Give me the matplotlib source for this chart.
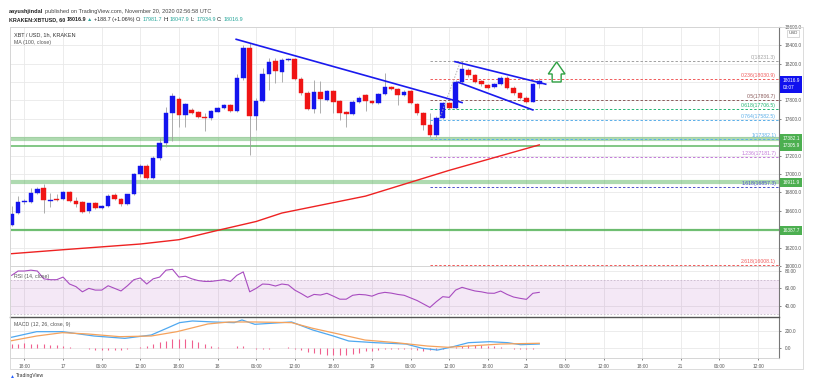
import numpy as np
import pandas as pd
import matplotlib
matplotlib.use('Agg')
import matplotlib.pyplot as plt
from matplotlib.patches import Polygon, Rectangle
from matplotlib.transforms import blended_transform_factory

plt.rcParams['font.family'] = ['Liberation Sans', 'DejaVu Sans']

# ---- data ----
bar_start = '2020-11-16 16:00'   # first hourly bar
opens = [16448, 16571, 16691, 16698, 16799, 16847, 16706, 16731, 16728, 16804,
         16706, 16691, 16593, 16684, 16626, 16647, 16771, 16728, 16669, 16782,
         17002, 17089, 16962, 17179, 17336, 17662, 17817, 17643, 17697, 17672,
         17625, 17607, 17679, 17719, 17748, 17690, 18042, 18367, 17632, 17795,
         18088, 18230, 18113, 18240, 18248, 18031, 17879, 17705, 17896, 17806,
         17904, 17795, 17679, 17654, 17788, 17857, 17795, 17770, 17868, 17944,
         17925, 17860, 17904, 17759, 17662, 17535, 17426, 17614, 17770, 17722,
         18005, 18132, 18078, 18012, 17969, 17944, 17977, 18048, 17940, 17879,
         17831, 17788, 17982]
highs = [16655, 16756, 16731, 16850, 16861, 16894, 16796, 16785, 16815, 16815,
         16753, 16705, 16687, 16698, 16666, 16785, 16796, 16742, 16785, 17013,
         17111, 17111, 17197, 17393, 17733, 17879, 17838, 17774, 17719, 17686,
         17665, 17697, 17730, 17763, 17763, 18088, 18403, 18425, 17828, 18154,
         18262, 18262, 18262, 18262, 18262, 18055, 17900, 18023, 18012, 17915,
         17915, 17806, 17690, 17806, 17849, 17871, 17806, 17882, 18099, 17958,
         17936, 17915, 17915, 17770, 17676, 17665, 17636, 17784, 17784, 18023,
         18230, 18154, 18088, 18023, 17980, 17991, 18066, 18066, 17958, 17890,
         17849, 17991, 18048]
lows = [16438, 16560, 16677, 16687, 16785, 16579, 16644, 16709, 16720, 16697,
        16644, 16579, 16579, 16622, 16622, 16644, 16720, 16655, 16666, 16774,
        16970, 16948, 16948, 17154, 17296, 17361, 17513, 17513, 17654, 17611,
        17469, 17589, 17676, 17708, 17676, 17676, 18023, 17209, 17480, 17784,
        17915, 17991, 18002, 18230, 18023, 17860, 17694, 17665, 17665, 17795,
        17665, 17589, 17513, 17643, 17773, 17687, 17763, 17763, 17860, 17915,
        17752, 17849, 17763, 17643, 17480, 17404, 17404, 17600, 17708, 17708,
        17991, 18056, 17991, 17958, 17925, 17936, 17969, 17925, 17860, 17817,
        17770, 17784, 17935]
closes = [16565, 16691, 16706, 16799, 16839, 16717, 16723, 16723, 16804, 16706,
          16673, 16586, 16680, 16626, 16655, 16763, 16728, 16669, 16782, 17002,
          17089, 16962, 17179, 17336, 17662, 17849, 17643, 17763, 17668, 17625,
          17607, 17687, 17722, 17748, 17690, 18042, 18374, 17632, 17795, 18088,
          18222, 18124, 18240, 18245, 18031, 17879, 17705, 17896, 17820, 17904,
          17788, 17662, 17654, 17788, 17831, 17795, 17770, 17868, 17944, 17925,
          17860, 17896, 17770, 17662, 17535, 17426, 17614, 17770, 17722, 18005,
          18143, 18078, 18005, 17977, 17940, 17977, 18048, 17940, 17879, 17824,
          17788, 17980, 18017]

ma_idx = [0, 8, 20, 26, 32, 38, 42, 55, 68, 82]
ma_vals = [16134, 16177, 16239, 16286, 16387, 16484, 16576, 16760, 17040, 17317]

rsi_vals = [75, 80, 80, 81, 80, 71, 70, 70, 73, 65,
            62, 56, 60, 58, 58, 63, 60, 57, 63, 70,
            72, 65, 71, 73, 81, 82, 73, 74, 71, 69,
            68, 68, 69, 70, 68, 75, 79, 56, 60, 65,
            64.6, 62.7, 65, 64, 58, 54, 49.6, 53, 52.3, 54.3,
            51, 47.5, 47.5, 52, 53, 52.5, 51, 54, 55.4, 54.5,
            53, 52, 49, 46, 42, 38, 44.6, 50.4, 49.6, 58,
            61.2, 59, 57, 56, 54.5, 54.3, 56.9, 53, 50, 48.5,
            47.3, 54.3, 55.4]

macd_idx = [0, 3.9, 7.9, 12.8, 17.6, 21.7, 24.1, 26.1, 28.1, 31.4, 34.6, 35.8,
            37.8, 43.5, 46.8, 50, 52.4, 56.5, 61.3, 63.8, 66.2, 68.6, 71, 74.3,
            77.1, 79.1, 82]
macd_vals = [125, 192, 192, 140, 112, 152, 232, 300, 320, 308, 300, 332,
             280, 308, 212, 140, 80, 60, 44, -7, -28, 12, 60, 72,
             60, 36, 44]
signal_idx = [0, 3.9, 7.9, 11.9, 16.8, 21.7, 25.7, 30.5, 33.8, 37.8, 43.5, 46.8,
              50.8, 54.9, 59.8, 64.6, 67.8, 71, 76, 82]
signal_vals = [84, 140, 180, 164, 132, 140, 192, 284, 308, 308, 300, 232,
               164, 92, 60, 20, 5, 20, 44, 53]
hist_vals = [45, 50, 52, 50, 45, 40, 35, 28, 20, 10, 2,
             -8, -18, -25, -30, -32, -30, -25, -18,
             -5, 8, 25, 45, 65, 85, 100, 110, 105, 90, 70, 45,
             25, 10, 0, -8, 15, 24, -5, -20, -15, -10, -5, 0, 5,
             -10, -30, -50, -65, -80, -88, -92, -90, -85, -75, -60, -45, -35, -25, -20, -15, -12, -15, -18,
             -25, -35, -30, -25, -15, -5,
             10, 20, 30, 35, 30, 25, 20, 10,
             -5, -10, -15, -15, -10, -8]

fib_ratios = [0, 0.236, 0.5, 0.618, 0.764, 1, 1.236, 1.618, 2.618]
fib_prices = [18231.3, 18030.9, 17806.7, 17706.5, 17582.5, 17382.1, 17181.7, 16857.3, 16008.1]
fib_start = 65

support_prices = [17382.1, 17305.9, 16911.9, 16387.7]

trend_lines = [((34.9, 18465), (70.0, 17777)),
               ((68.9, 18222), (83.0, 17977)),
               ((69.4, 17998), (81.0, 17697))]
fib_diag = ((66.5, 17600), (69.8, 18231))

last_price = 18016.9
countdown = '03:07'

# ---- styles ----
W, H = 816, 379
fib_colors = ['#a0a0a0', '#f05a5a', '#8a5a5a', '#22b573', '#5aaee8', '#5aaee8',
              '#c27ad8', '#4a50c8', '#f05a5a']
support_lw = [3.0, 1.3, 3.0, 1.6]
support_alpha = [0.45, 0.75, 0.45, 0.8]
green = '#4caf50'
grid_c = '#e9e9e9'
x_max = 119.3

fig = plt.figure(figsize=(W / 100, H / 100), dpi=100)


def px_axes(left, top, right, bottom):
    return fig.add_axes([left / W, 1 - bottom / H, (right - left) / W, (bottom - top) / H])


ax = px_axes(10, 26.7, 779.3, 266)
ax_rsi = px_axes(10, 266, 779.3, 317.3)
ax_macd = px_axes(10, 317.3, 779.3, 358.3)

tick_times = pd.date_range('2020-11-16 18:00', '2020-11-21 12:00', freq='6h')
tick_pos = (tick_times - pd.Timestamp(bar_start)) / pd.Timedelta('1h')
tick_labels = [str(t.day) if t.hour == 0 else t.strftime('%H:%M') for t in tick_times]

for a in (ax, ax_rsi, ax_macd):
    a.set_xlim(-0.25, x_max)
    a.set_xticks(tick_pos)
    a.yaxis.tick_right()
    a.grid(True, color=grid_c, lw=0.6)
    a.set_axisbelow(True)
    a.tick_params(axis='both', labelsize=3.4, length=1.5, pad=2.5, colors='#555555',
                  width=0.5)
    for s in ('left', 'top', 'bottom'):
        a.spines[s].set_color('#cfcfcf')
        a.spines[s].set_linewidth(0.6)
    a.spines['right'].set_color('#777777')
    a.spines['right'].set_linewidth(0.8)
ax.set_xticklabels([])
ax_rsi.set_xticklabels([])
ax_macd.set_xticklabels(tick_labels)
ax_macd.spines['top'].set_color('#555555')
ax_macd.spines['top'].set_linewidth(1.0)
ax.tick_params(axis='x', length=0)
ax_rsi.tick_params(axis='x', length=0)

# ---- main price panel ----
ax.set_ylim(16003, 18602)
ax.set_yticks(np.arange(16000, 18601, 200))
boxed = support_prices + [last_price]


def price_fmt(v, pos):
    # labels hidden under the value boxes on the price scale
    if min(abs(v - b) for b in boxed) < 60:
        return ''
    return f'{v:.1f}'


ax.yaxis.set_major_formatter(plt.FuncFormatter(price_fmt))

idx = np.arange(len(closes))
o, h, l, c = map(np.array, (opens, highs, lows, closes))
up = c >= o
cols = np.where(up, '#1414ee', '#f01414')
ax.vlines(idx, l, h, color='#a0a0a0', lw=0.6, zorder=3)
ax.bar(idx, np.maximum(np.abs(c - o), 10), bottom=np.minimum(o, c), width=0.72,
       color=cols, edgecolor=cols, lw=0.3, zorder=4)

ax.plot(ma_idx, ma_vals, color='#ee2222', lw=1.0, zorder=5)

for p, lw, al in zip(support_prices, support_lw, support_alpha):
    ax.axhline(p, color=green, lw=lw, alpha=al, zorder=2)

for r, p, col in zip(fib_ratios, fib_prices, fib_colors):
    ax.hlines(p, fib_start, x_max, colors=col, linestyles=(0, (2.5, 2)), lw=0.7, zorder=2)
    ax.text(x_max - 0.5, p + 12, f'{r:g}({p:.1f})', ha='right', va='bottom',
            color=col, fontsize=3.7, zorder=6)

(fx0, fy0), (fx1, fy1) = fib_diag
ax.plot([fx0, fx1], [fy0, fy1], color='#b0b0b0', lw=0.7, ls=(0, (1.5, 1.5)), zorder=5)

for (x0, y0), (x1, y1) in trend_lines:
    ax.plot([x0, x1], [y0, y1], color='#1a1aee', lw=1.2, zorder=6)

# hollow green arrow right of the last bar
lx = len(closes) - 1
arrow = Polygon([(lx + 1.4, 18088), (lx + 2.7, 18219), (lx + 4.0, 18088),
                 (lx + 3.4, 18088), (lx + 3.4, 18001), (lx + 2.0, 18001),
                 (lx + 2.0, 18088)], closed=True, fill=False,
                edgecolor='#2ea043', lw=1.0, zorder=7)
ax.add_patch(arrow)

# right-axis value boxes
tr = blended_transform_factory(ax.transAxes, ax.transData)
for p in support_prices:
    ax.text(1.004, p, f'{p:.1f}', transform=tr, ha='left', va='center', fontsize=3.4,
            color='white', clip_on=False, zorder=10,
            bbox=dict(boxstyle='square,pad=0.45', fc=green, ec='none'))
ax.text(1.004, last_price - 40, f'{last_price:.1f}\n{countdown}', transform=tr,
        ha='left', va='center', fontsize=3.4, color='white', clip_on=False, zorder=10,
        linespacing=1.6, bbox=dict(boxstyle='square,pad=0.45', fc='#1010ee', ec='none'))
ax.text(1.012, 18530, 'USD', transform=tr, ha='left', va='center', fontsize=3.2,
        color='#555555', clip_on=False, zorder=10,
        bbox=dict(boxstyle='square,pad=0.3', fc='white', ec='#bbbbbb', lw=0.4))

ax.text(0.005, 0.965, 'XBT / USD, 1h, KRAKEN', transform=ax.transAxes, fontsize=4.0,
        color='#333333', va='center')
ax.text(0.005, 0.932, 'MA (100, close)', transform=ax.transAxes, fontsize=3.8,
        color='#555555', va='center')

# ---- RSI ----
ax_rsi.set_ylim(26.6, 85.8)
ax_rsi.set_yticks([40, 60, 80])
ax_rsi.set_yticklabels(['40.00', '60.00', '80.00'])
ax_rsi.axhspan(30, 70, color='#9c27b0', alpha=0.1, lw=0)
for lvl in (30, 70):
    ax_rsi.axhline(lvl, color='#c8b8cc', lw=0.6, ls=(0, (2, 2)))
ax_rsi.plot(idx, rsi_vals, color='#a84cc0', lw=0.8)
ax_rsi.text(0.005, 0.8, 'RSI (14, close)', transform=ax_rsi.transAxes, fontsize=3.8,
            color='#555555', va='center')

# ---- MACD ----
ax_macd.set_ylim(-127, 364)
ax_macd.set_yticks([0, 200])
ax_macd.set_yticklabels(['0.0', '200.0'])
ax_macd.vlines(idx, 0, hist_vals, color='#f0608f', lw=0.8)
ax_macd.plot(macd_idx, macd_vals, color='#4fa8f0', lw=0.9)
ax_macd.plot(signal_idx, signal_vals, color='#f5a25c', lw=0.9)
ax_macd.text(0.005, 0.83, 'MACD (12, 26, close, 9)', transform=ax_macd.transAxes,
             fontsize=3.8, color='#555555', va='center')

# ---- frame, header, footer ----
fig.add_artist(Rectangle((10 / W, 1 - 369 / H), 793 / W, (369 - 26.7) / H,
                         fill=False, ec='#d6d6d6', lw=0.6, transform=fig.transFigure))

renderer = fig.canvas.get_renderer()


def write_run(x, y, parts, size):
    for s, col, wt in parts:
        t = fig.text(x / W, 1 - y / H, s, color=col, fontweight=wt, fontsize=size,
                     va='baseline')
        x += t.get_window_extent(renderer=renderer).width + 1.2


teal = '#26a69a'
write_run(9, 13.5, [('aayushjindal', '#222222', 'bold'),
                    ('published on TradingView.com, November 20, 2020 02:56:58 UTC',
                     '#444444', 'normal')], 4.1)
write_run(9, 20.8, [('KRAKEN:XBTUSD, 60', '#222222', 'bold'),
                    ('18016.9', '#222222', 'bold'),
                    ('▲', teal, 'normal'),
                    ('+188.7 (+1.06%)', '#222222', 'normal'),
                    ('O:', '#222222', 'normal'), ('17981.7', teal, 'normal'),
                    ('H:', '#222222', 'normal'), ('18047.9', teal, 'normal'),
                    ('L:', '#222222', 'normal'), ('17934.9', teal, 'normal'),
                    ('C:', '#222222', 'normal'), ('18016.9', teal, 'normal')], 3.9)
write_run(10, 377.5, [('▲', '#2962ff', 'normal'), ('TradingView', '#333333', 'normal')], 3.6)

fig.savefig('out.png', dpi=100, facecolor='white')
